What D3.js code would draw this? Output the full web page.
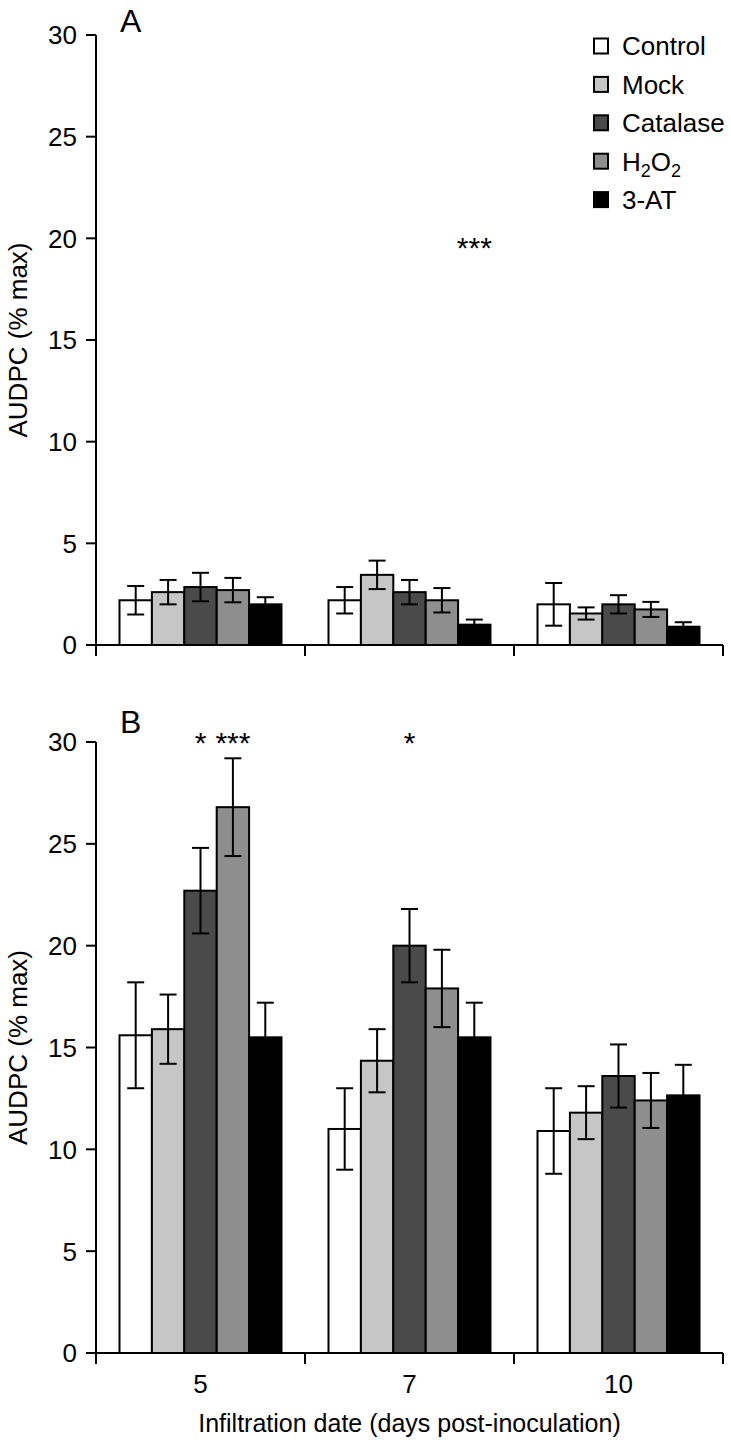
<!DOCTYPE html>
<html><head><meta charset="utf-8">
<script src="https://cdn.jsdelivr.net/npm/d3@7"></script>
<style>body{margin:0;background:#fff}svg{display:block}text{font-family:"Liberation Sans",Arial,sans-serif;fill:#000}</style>
</head><body><svg id="c" width="731" height="1443"></svg>
<script>
const days = ["5","7","10"];
const treatments = ["Control","Mock","Catalase","H2O2","3-AT"];
const colors = ["#ffffff","#c6c6c6","#4a4a4a","#8e8e8e","#000000"];
const yTicks = [0,5,10,15,20,25,30];
// Panel A values [day][treatment]
const meanA = [[2.2,2.6,2.85,2.7,2.0],[2.2,3.45,2.6,2.2,1.0],[2.0,1.55,2.0,1.75,0.9]];
const errA  = [[0.7,0.6,0.7,0.6,0.35],[0.65,0.7,0.6,0.6,0.25],[1.05,0.3,0.45,0.37,0.22]];
const starsA = [{day:"7", t:"3-AT", v:19.9, label:"***"}];
// Panel B values
const meanB = [[15.6,15.9,22.7,26.8,15.5],[11.0,14.35,20.0,17.9,15.5],[10.9,11.8,13.6,12.4,12.65]];
const errB  = [[2.6,1.7,2.1,2.4,1.7],[2.0,1.55,1.8,1.9,1.7],[2.1,1.3,1.55,1.35,1.5]];
const starsB = [{day:"5", t:"Catalase", v:30.3, label:"*"},{day:"5", t:"H2O2", v:30.3, label:"***"},{day:"7", t:"Catalase", v:30.3, label:"*"}];

const svg = d3.select("#c");
const x0 = d3.scaleBand().domain(days).range([96,723]).padding(0);
const x1 = d3.scaleBand().domain(treatments).range([-81,81]).padding(0);

function panel(means, errs, stars, yTop, yBot, letter, letterY, showX){
  const y = d3.scaleLinear().domain([0,30]).range([yBot,yTop]);
  const g = svg.append("g");
  g.append("line").attr("x1",96).attr("x2",96).attr("y1",yTop).attr("y2",yBot+11).attr("stroke","#000").attr("stroke-width",2);
  yTicks.forEach(t=>{
    g.append("line").attr("x1",86).attr("x2",96).attr("y1",y(t)).attr("y2",y(t)).attr("stroke","#000").attr("stroke-width",2);
    g.append("text").attr("x",77).attr("y",y(t)).attr("dy","0.36em").attr("text-anchor","end").attr("font-size",26).text(t);
  });
  g.append("line").attr("x1",96).attr("x2",723).attr("y1",yBot).attr("y2",yBot).attr("stroke","#000").attr("stroke-width",2);
  const bounds = days.map(d=>x0(d)).concat([x0(days[days.length-1])+x0.bandwidth()]);
  bounds.forEach(b=>g.append("line").attr("x1",b).attr("x2",b).attr("y1",yBot).attr("y2",yBot+11).attr("stroke","#000").attr("stroke-width",2));
  days.forEach((d,i)=>{
    const cx = x0(d)+x0.bandwidth()/2;
    treatments.forEach((t,j)=>{
      const bx = cx + x1(t);
      g.append("rect").attr("x",bx).attr("y",y(means[i][j])).attr("width",x1.bandwidth()).attr("height",yBot-y(means[i][j]))
        .attr("fill",colors[j]).attr("stroke","#000").attr("stroke-width",2);
      const mx = bx + x1.bandwidth()/2;
      const hi = y(means[i][j]+errs[i][j]), lo = y(means[i][j]-errs[i][j]);
      g.append("line").attr("x1",mx).attr("x2",mx).attr("y1",hi).attr("y2",lo).attr("stroke","#000").attr("stroke-width",2);
      [hi,lo].forEach(yy=>g.append("line").attr("x1",mx-8.5).attr("x2",mx+8.5).attr("y1",yy).attr("y2",yy).attr("stroke","#000").attr("stroke-width",2));
    });
  });
  stars.forEach(s=>{
    const cx = x0(s.day)+x0.bandwidth()/2 + x1(s.t) + x1.bandwidth()/2;
    g.append("text").attr("x",cx).attr("y",y(s.v)).attr("dy","0.58em").attr("text-anchor","middle").attr("font-size",30).text(s.label);
  });
  g.append("text").attr("x",120).attr("y",letterY).attr("font-size",32).text(letter);
  g.append("text").attr("transform",`translate(27,${(yTop+yBot)/2}) rotate(-90)`).attr("text-anchor","middle").attr("font-size",26).text("AUDPC (% max)");
  if(showX){
    days.forEach(d=>g.append("text").attr("x",x0(d)+x0.bandwidth()/2).attr("y",yBot+40).attr("text-anchor","middle").attr("font-size",26).text(d));
    g.append("text").attr("x",(x0.range()[0]+x0.range()[1])/2).attr("y",yBot+79).attr("text-anchor","middle").attr("font-size",25).text("Infiltration date (days post-inoculation)");
  }
}
panel(meanA, errA, starsA, 35, 645, "A", 32, false);
panel(meanB, errB, starsB, 742, 1353, "B", 733, true);

const leg = svg.append("g");
const legLabels = ["Control","Mock","Catalase","H2O2","3-AT"];
legLabels.forEach((l,i)=>{
  const yy = 46 + i*38.4;
  leg.append("rect").attr("x",594).attr("y",yy-7.5).attr("width",14).attr("height",15).attr("fill",colors[i]).attr("stroke","#000").attr("stroke-width",2);
  const tx = leg.append("text").attr("x",622).attr("y",yy).attr("dy","0.36em").attr("font-size",26);
  if(l==="H2O2"){
    tx.append("tspan").text("H");
    tx.append("tspan").attr("font-size",18).attr("dy",6).text("2");
    tx.append("tspan").attr("dy",-6).text("O");
    tx.append("tspan").attr("font-size",18).attr("dy",6).text("2");
  } else tx.text(l);
});
</script></body></html>
